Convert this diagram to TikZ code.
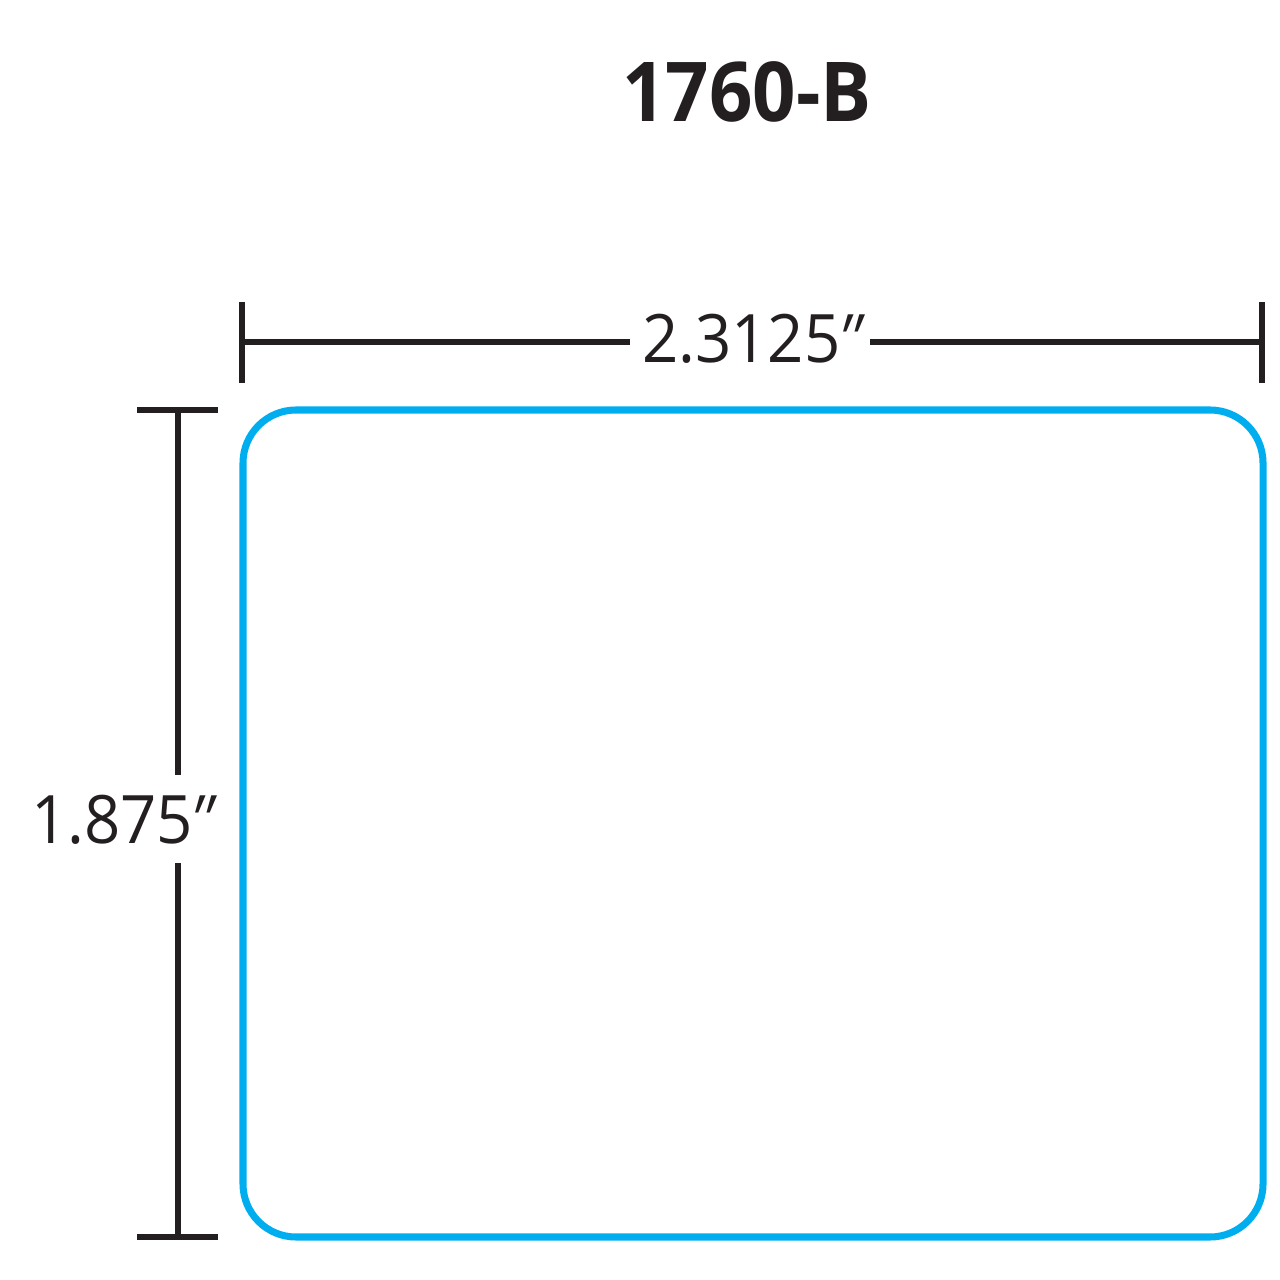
\documentclass[tikz,border=0pt]{standalone}
\usepackage{fontspec}
\setmainfont{Open Sans}
\newfontfamily\titlefont[FakeStretch=0.92]{Open Sans}
\newfontfamily\labfont[FakeStretch=0.95]{Open Sans}
\newfontfamily\primefont[FakeStretch=0.95,FakeSlant=0.35]{Open Sans}
\newcommand{\dprime}{\kern-0.2em{\primefont ″}}
\definecolor{labelblue}{HTML}{00AEEF}
\definecolor{dimblack}{HTML}{231F20}
\begin{document}
\begin{tikzpicture}[x=0.01cm,y=-0.01cm,
  dimline/.style={draw=dimblack,line width=1.45pt},
  outline/.style={draw=labelblue,line width=2pt,rounded corners=0.53cm},
  dimlabel/.style={font=\labfont\fontsize{19}{19}\selectfont,text=dimblack,inner sep=0pt},
  titlelabel/.style={font=\titlefont\bfseries\fontsize{23.5}{23.5}\selectfont,text=dimblack,inner sep=0pt}]
\useasboundingbox (0,0) rectangle (1280,1280);
% title
\node[titlelabel,anchor=base] (title) at (747,122) {1760-B};
% label outline
\draw[outline] (243,410) rectangle (1263,1237);
% horizontal dimension
\coordinate (htl1) at (242,302);
\coordinate (htl2) at (242,383);
\coordinate (hl) at (242,342);
\coordinate (htr1) at (1262,302);
\coordinate (htr2) at (1262,383);
\coordinate (hr) at (1262,342);
\node[dimlabel,anchor=base] (hlab) at (747,363) {2.3125\dprime};
\coordinate (hgapl) at (630,342);
\coordinate (hgapr) at (870,342);
\draw[dimline] (htl1) -- (htl2);
\draw[dimline] (htr1) -- (htr2);
\draw[dimline] (hl) -- (hgapl);
\draw[dimline] (hgapr) -- (hr);
% vertical dimension
\coordinate (vtt1) at (137,410);
\coordinate (vtt2) at (218,410);
\coordinate (vt) at (178,410);
\coordinate (vtb1) at (137,1237);
\coordinate (vtb2) at (218,1237);
\coordinate (vb) at (178,1237);
\node[dimlabel,anchor=base] (vlab) at (118,843) {1.875\dprime};
\coordinate (vgapt) at (178,775);
\coordinate (vgapb) at (178,863);
\draw[dimline] (vtt1) -- (vtt2);
\draw[dimline] (vtb1) -- (vtb2);
\draw[dimline] (vt) -- (vgapt);
\draw[dimline] (vgapb) -- (vb);
\end{tikzpicture}
\end{document}
